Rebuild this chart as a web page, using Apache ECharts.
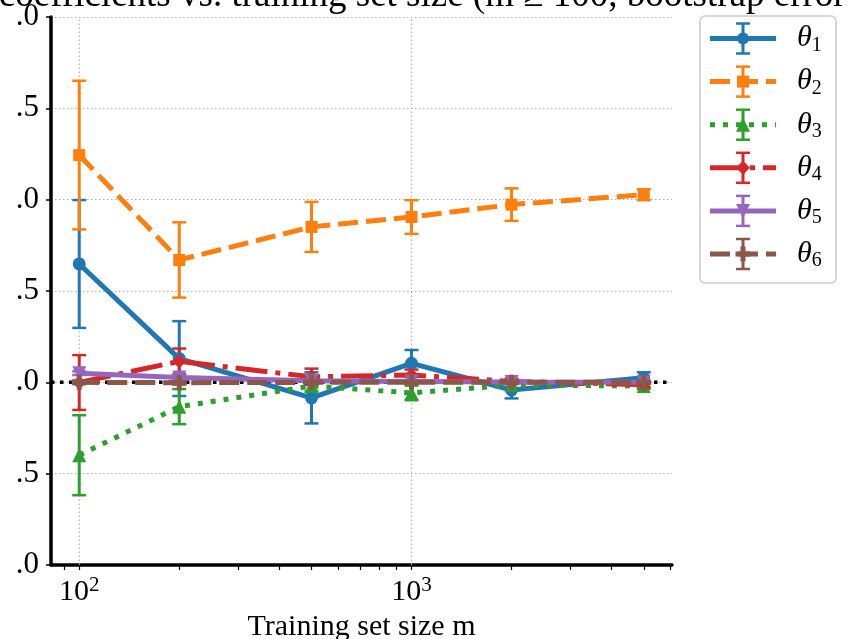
<!DOCTYPE html>
<html>
<head>
<meta charset="utf-8">
<script src="https://cdn.jsdelivr.net/npm/echarts@6/dist/echarts.min.js"></script>
<style>
  html, body { margin: 0; padding: 0; background: #ffffff; }
  #chart { width: 851px; height: 639px; }
</style>
</head>
<body>
<div id="chart"></div>
<script>
// Training set sizes (m) and bootstrap estimates of each coefficient
const sizes = [100, 200, 500, 1000, 2000, 5000];

const theta1    = [0.648, 0.130, -0.085, 0.104, -0.042, 0.025];
const theta1Err = [0.350, 0.205, 0.140, 0.073, 0.046, 0.030];
const theta2    = [1.244, 0.670, 0.851, 0.905, 0.973, 1.027];
const theta2Err = [0.407, 0.206, 0.137, 0.092, 0.089, 0.030];
const theta3    = [-0.399, -0.133, -0.020, -0.058, -0.015, -0.020];
const theta3Err = [0.219, 0.096, 0.030, 0.040, 0.020, 0.015];
const theta4    = [-0.001, 0.115, 0.030, 0.040, 0.005, -0.012];
const theta4Err = [0.150, 0.070, 0.045, 0.030, 0.015, 0.015];
const theta5    = [0.050, 0.027, 0.008, 0.005, 0.002, 0.000];
const theta5Err = [0.010, 0.010, 0.010, 0.008, 0.006, 0.005];
const theta6    = [0.000, -0.002, 0.000, 0.000, 0.000, 0.000];
const theta6Err = [0.010, 0.010, 0.008, 0.006, 0.005, 0.004];

const seriesNames = ['θ1', 'θ2', 'θ3', 'θ4', 'θ5', 'θ6'];
const subscripts  = ['1', '2', '3', '4', '5', '6'];
const colors = ['#1f77b4', '#ff7f0e', '#2ca02c', '#d62728', '#9467bd', '#8c564b'];

const titleText = 'Regression coefficients vs. training set size (m ≥ 100, bootstrap error bars)';
const xAxisName = 'Training set size m';
const yTicks = [-1.0, -0.5, 0.0, 0.5, 1.0, 1.5, 2.0];
const xMajorExponents = [2, 3];
const xMinorTicks = [90, 100, 200, 300, 400, 500, 600, 700, 800, 900,
                     1000, 2000, 3000, 4000, 5000, 6000];

const values = [theta1, theta2, theta3, theta4, theta5, theta6];
const errors = [theta1Err, theta2Err, theta3Err, theta4Err, theta5Err, theta6Err];

// Line styles: solid, dashed, dotted, dash-dot, solid, dashed
const dashes = ['solid', [20, 8], [5, 8], [32, 8, 5, 8], 'solid', [20, 8]];
const plusPath = 'path://M2,0H4V2H6V4H4V6H2V4H0V2H2Z';
const symbols = ['circle', 'rect', 'triangle', 'diamond', 'triangle', plusPath];
const symbolSizes = [13, 12, 14, 14, 14, 15];
const symbolRotates = [0, 0, 0, 0, 180, 0];

const FONT = '"Liberation Serif", "Times New Roman", serif';

// log-scaled x with 5% margins on each side
const lx = sizes.map(v => Math.log10(v));
const span = lx[lx.length - 1] - lx[0];
const xMin = lx[0] - 0.05 * span;
const xMax = lx[lx.length - 1] + 0.05 * span;

const series = [];

// vertical grid lines at the decades
series.push({
  type: 'custom',
  z: 1,
  silent: true,
  data: xMajorExponents.map(e => [e]),
  encode: { x: 0 },
  renderItem: function (params, api) {
    const a = api.coord([api.value(0), yTicks[0]]);
    const b = api.coord([api.value(0), yTicks[yTicks.length - 1]]);
    return {
      type: 'line',
      shape: { x1: a[0], y1: a[1], x2: b[0], y2: b[1] },
      style: { stroke: '#b0b0b0', lineWidth: 1.2, lineDash: [1.5, 2.5] }
    };
  }
});

// horizontal reference at zero
series.push({
  type: 'custom',
  z: 2,
  silent: true,
  data: [[xMin, 0]],
  encode: { x: 0, y: 1 },
  renderItem: function (params, api) {
    const a = api.coord([xMin, api.value(1)]);
    const b = api.coord([xMax, api.value(1)]);
    return {
      type: 'line',
      shape: { x1: a[0], y1: a[1], x2: b[0], y2: b[1] },
      style: { stroke: '#000000', lineWidth: 3.5, lineDash: [3.5, 5.5] }
    };
  }
});

values.forEach(function (vals, i) {
  const color = colors[i];
  const errData = vals.map((v, k) => [lx[k], v, errors[i][k]]);
  series.push({
    type: 'custom',
    name: seriesNames[i] + '_err',
    z: 3,
    silent: true,
    data: errData,
    encode: { x: 0, y: 1 },
    renderItem: function (params, api) {
      const x = api.value(0), y = api.value(1), e = api.value(2);
      const top = api.coord([x, y + e]);
      const bot = api.coord([x, y - e]);
      const hw = 7;
      return {
        type: 'group',
        children: [
          { type: 'line', shape: { x1: top[0], y1: top[1], x2: bot[0], y2: bot[1] },
            style: { stroke: color, lineWidth: 3 } },
          { type: 'line', shape: { x1: top[0] - hw, y1: top[1], x2: top[0] + hw, y2: top[1] },
            style: { stroke: color, lineWidth: 2.5 } },
          { type: 'line', shape: { x1: bot[0] - hw, y1: bot[1], x2: bot[0] + hw, y2: bot[1] },
            style: { stroke: color, lineWidth: 2.5 } }
        ]
      };
    }
  });
  series.push({
    type: 'line',
    name: seriesNames[i],
    z: 3,
    data: vals.map((v, k) => [lx[k], v]),
    symbol: symbols[i],
    symbolSize: symbolSizes[i],
    symbolRotate: symbolRotates[i],
    showSymbol: true,
    animation: false,
    lineStyle: { color: color, width: 5, type: dashes[i], cap: 'butt' },
    itemStyle: { color: color, borderWidth: 0 },
    emphasis: { disabled: true }
  });
});

// legend drawn as graphics (line sample, error bar and marker)
const legendX0 = 710, legendX1 = 776, legendMid = 743;
const legendTop = 38.5, legendStep = 43.1;
const legendChildren = [{
  type: 'rect',
  shape: { x: 700, y: 16, width: 136, height: 267, r: 5 },
  style: { fill: 'rgba(255,255,255,0.8)', stroke: '#cccccc', lineWidth: 1.5 }
}];

function markerShape(i, cx, cy, color) {
  const s = 7;
  switch (i) {
    case 0: return { type: 'circle', shape: { cx: cx, cy: cy, r: 6 }, style: { fill: color } };
    case 1: return { type: 'rect', shape: { x: cx - 6, y: cy - 6, width: 12, height: 12 }, style: { fill: color } };
    case 2: return { type: 'polygon', shape: { points: [[cx, cy - s], [cx + s, cy + s], [cx - s, cy + s]] }, style: { fill: color } };
    case 3: return { type: 'polygon', shape: { points: [[cx, cy - s], [cx + s, cy], [cx, cy + s], [cx - s, cy]] }, style: { fill: color } };
    case 4: return { type: 'polygon', shape: { points: [[cx - s, cy - s], [cx + s, cy - s], [cx, cy + s]] }, style: { fill: color } };
    default: {
      const a = 2.5, b = 7.5;
      return { type: 'polygon', shape: { points: [
        [cx - a, cy - b], [cx + a, cy - b], [cx + a, cy - a], [cx + b, cy - a], [cx + b, cy + a],
        [cx + a, cy + a], [cx + a, cy + b], [cx - a, cy + b], [cx - a, cy + a], [cx - b, cy + a],
        [cx - b, cy - a], [cx - a, cy - a]] }, style: { fill: color } };
    }
  }
}

seriesNames.forEach(function (name, i) {
  const y = legendTop + i * legendStep;
  const color = colors[i];
  const dash = dashes[i] === 'solid' ? null : dashes[i];
  legendChildren.push({
    type: 'line',
    shape: { x1: legendX0, y1: y, x2: legendX1, y2: y },
    style: { stroke: color, lineWidth: 5, lineDash: dash, lineCap: 'butt' }
  });
  legendChildren.push({
    type: 'line', shape: { x1: legendMid, y1: y - 15, x2: legendMid, y2: y + 15 },
    style: { stroke: color, lineWidth: 3 }
  });
  legendChildren.push({
    type: 'line', shape: { x1: legendMid - 7, y1: y - 15, x2: legendMid + 7, y2: y - 15 },
    style: { stroke: color, lineWidth: 2.5 }
  });
  legendChildren.push({
    type: 'line', shape: { x1: legendMid - 7, y1: y + 15, x2: legendMid + 7, y2: y + 15 },
    style: { stroke: color, lineWidth: 2.5 }
  });
  legendChildren.push(markerShape(i, legendMid, y, color));
  legendChildren.push({
    type: 'text',
    x: 797, y: y,
    style: {
      text: '{t|' + name.charAt(0) + '}{s|' + subscripts[i] + '}',
      verticalAlign: 'middle',
      rich: {
        t: { fontFamily: FONT, fontStyle: 'italic', fontSize: 30, fill: '#000', lineHeight: 34 },
        s: { fontFamily: FONT, fontSize: 20, fill: '#000', padding: [14, 0, 0, 0], lineHeight: 34 }
      }
    }
  });
});

const chart = echarts.init(document.getElementById('chart'), null, { renderer: 'canvas' });

chart.setOption({
  animation: false,
  backgroundColor: '#ffffff',
  grid: { left: 51, right: 179, top: 17, bottom: 74, containLabel: false, outerBoundsMode: 'none' },
  xAxis: {
    type: 'value',
    min: xMin,
    max: xMax,
    name: xAxisName,
    nameLocation: 'middle',
    nameGap: 39,
    nameTextStyle: { fontFamily: FONT, fontSize: 30, color: '#000' },
    axisLine: { show: true, onZero: false, lineStyle: { color: '#000', width: 3.5 } },
    axisTick: {
      show: true, inside: false, length: 5,
      customValues: xMinorTicks.map(v => Math.log10(v)),
      lineStyle: { color: '#000', width: 1.2 }
    },
    axisLabel: {
      customValues: xMajorExponents,
      margin: 10,
      formatter: function (v) { return '{b|10}{e|' + Math.round(v) + '}'; },
      rich: {
        b: { fontFamily: FONT, fontSize: 30, color: '#000' },
        e: { fontFamily: FONT, fontSize: 21, color: '#000', padding: [0, 0, 14, 0] }
      }
    },
    splitLine: { show: false }
  },
  yAxis: {
    type: 'value',
    min: yTicks[0],
    max: yTicks[yTicks.length - 1],
    interval: 0.5,
    axisLine: { show: true, onZero: false, lineStyle: { color: '#000', width: 3.5 } },
    axisTick: { show: true, inside: false, length: 5, lineStyle: { color: '#000', width: 1.5 } },
    axisLabel: {
      margin: 12,
      color: '#000',
      // integer part set further out to the left of the decimals
      formatter: function (v) {
        const s = (v < 0 ? '−' : '') + Math.abs(v).toFixed(1);
        const k = s.indexOf('.');
        return '{i|' + s.slice(0, k) + '}{d|' + s.slice(k) + '}';
      },
      rich: {
        i: { fontFamily: FONT, fontSize: 31, color: '#000', padding: [0, 17, 0, 0] },
        d: { fontFamily: FONT, fontSize: 31, color: '#000' }
      }
    },
    splitLine: { show: true, lineStyle: { color: '#b0b0b0', width: 1.2, type: [1.5, 2.5] } }
  },
  graphic: [
    {
      type: 'text',
      x: 377, y: 15,
      style: {
        text: titleText,
        fontFamily: FONT, fontSize: 37, fill: '#000',
        align: 'center', verticalAlign: 'bottom'
      }
    },
    { type: 'group', children: legendChildren }
  ],
  series: series
});
</script>
</body>
</html>
